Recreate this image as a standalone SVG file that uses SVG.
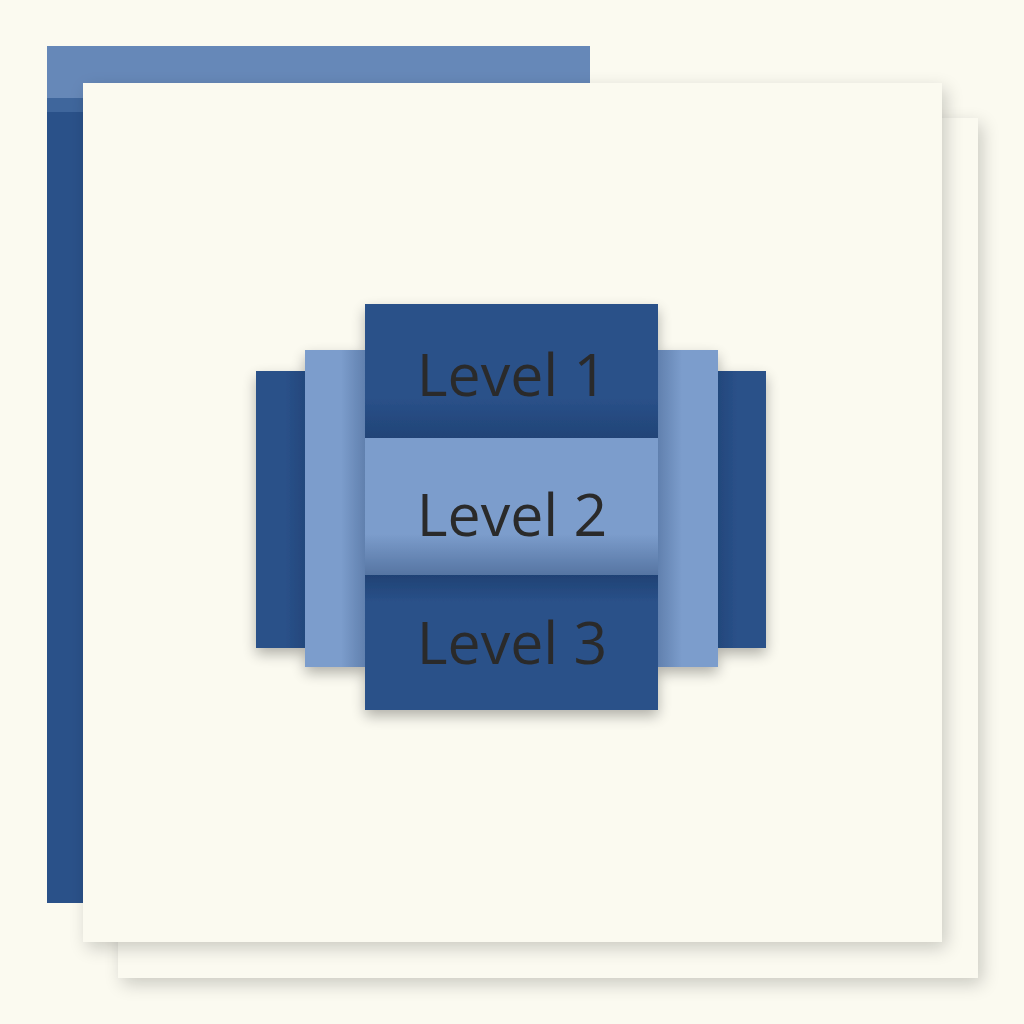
<svg xmlns="http://www.w3.org/2000/svg" width="1024" height="1024" viewBox="0 0 1024 1024">
<defs>
<style>
.dark{fill:#2a5189}
.light{fill:#7c9dcc}
.lbl{font-family:"Open Sans","Noto Sans",sans-serif;font-size:59px;fill:#2b2b2b;text-anchor:middle}
</style>
<filter id="sh" x="-10%" y="-10%" width="130%" height="130%">
<feGaussianBlur in="SourceAlpha" stdDeviation="9"/>
<feOffset dx="4" dy="6"/>
<feComponentTransfer><feFuncA type="linear" slope="0.2"/></feComponentTransfer>
<feMerge><feMergeNode/><feMergeNode in="SourceGraphic"/></feMerge>
</filter>
<filter id="sh2" x="-20%" y="-20%" width="140%" height="140%">
<feGaussianBlur in="SourceAlpha" stdDeviation="7"/>
<feOffset dx="0" dy="6"/>
<feComponentTransfer><feFuncA type="linear" slope="0.3"/></feComponentTransfer>
<feMerge><feMergeNode/><feMergeNode in="SourceGraphic"/></feMerge>
</filter>
<linearGradient id="botShade" x1="0" y1="0" x2="0" y2="1">
<stop offset="0.7" stop-color="#0f2a55" stop-opacity="0"/>
<stop offset="1" stop-color="#0f2a55" stop-opacity="0.35"/>
</linearGradient>
<linearGradient id="topShade" x1="0" y1="0" x2="0" y2="1">
<stop offset="0" stop-color="#0f2a55" stop-opacity="0.4"/>
<stop offset="0.2" stop-color="#0f2a55" stop-opacity="0"/>
</linearGradient>
<linearGradient id="leftSide" x1="0" y1="0" x2="1" y2="0">
<stop offset="0.6" stop-color="#0f2a55" stop-opacity="0"/>
<stop offset="1" stop-color="#0f2a55" stop-opacity="0.25"/>
</linearGradient>
<linearGradient id="rightSide" x1="0" y1="0" x2="1" y2="0">
<stop offset="0" stop-color="#0f2a55" stop-opacity="0.25"/>
<stop offset="0.4" stop-color="#0f2a55" stop-opacity="0"/>
</linearGradient>
</defs>
<rect width="1024" height="1024" fill="#fbfaf0"/>
<g id="frame">
<rect x="47" y="46" width="543" height="52" fill="#6688b8"/>
<rect x="47" y="98" width="36" height="805" fill="#2a5189"/>
<rect x="47" y="98" width="36" height="14" fill="#3f669c"/>
</g>
<g id="panels">
<rect x="118" y="118" width="860" height="860" fill="#fbfaf0" filter="url(#sh)"/>
<rect x="83" y="83" width="859" height="859" fill="#fbfaf0" filter="url(#sh)"/>
</g>
<g id="pyramid" filter="url(#sh2)">
<g id="side-left-outer"><rect class="dark" x="256" y="371" width="49" height="277"/><rect x="256" y="371" width="49" height="277" fill="url(#leftSide)"/></g>
<g id="side-right-outer"><rect class="dark" x="718" y="371" width="48" height="277"/><rect x="718" y="371" width="48" height="277" fill="url(#rightSide)"/></g>
<g id="side-left-inner"><rect class="light" x="305" y="350" width="60" height="317"/><rect x="305" y="350" width="60" height="317" fill="url(#leftSide)"/></g>
<g id="side-right-inner"><rect class="light" x="658" y="350" width="60" height="317"/><rect x="658" y="350" width="60" height="317" fill="url(#rightSide)"/></g>
<g id="level1">
<rect class="dark" x="365" y="304" width="293" height="134"/>
<rect x="365" y="304" width="293" height="134" fill="url(#botShade)"/>
<text class="lbl" x="512" y="396">Level 1</text>
</g>
<g id="level2">
<rect class="light" x="365" y="438" width="293" height="137"/>
<rect x="365" y="438" width="293" height="137" fill="url(#botShade)"/>
<text class="lbl" x="512" y="536">Level 2</text>
</g>
<g id="level3">
<rect class="dark" x="365" y="575" width="293" height="135"/>
<rect x="365" y="575" width="293" height="135" fill="url(#topShade)"/>
<text class="lbl" x="512" y="664">Level 3</text>
</g>
</g>
<g id="connectors"/>
</svg>
